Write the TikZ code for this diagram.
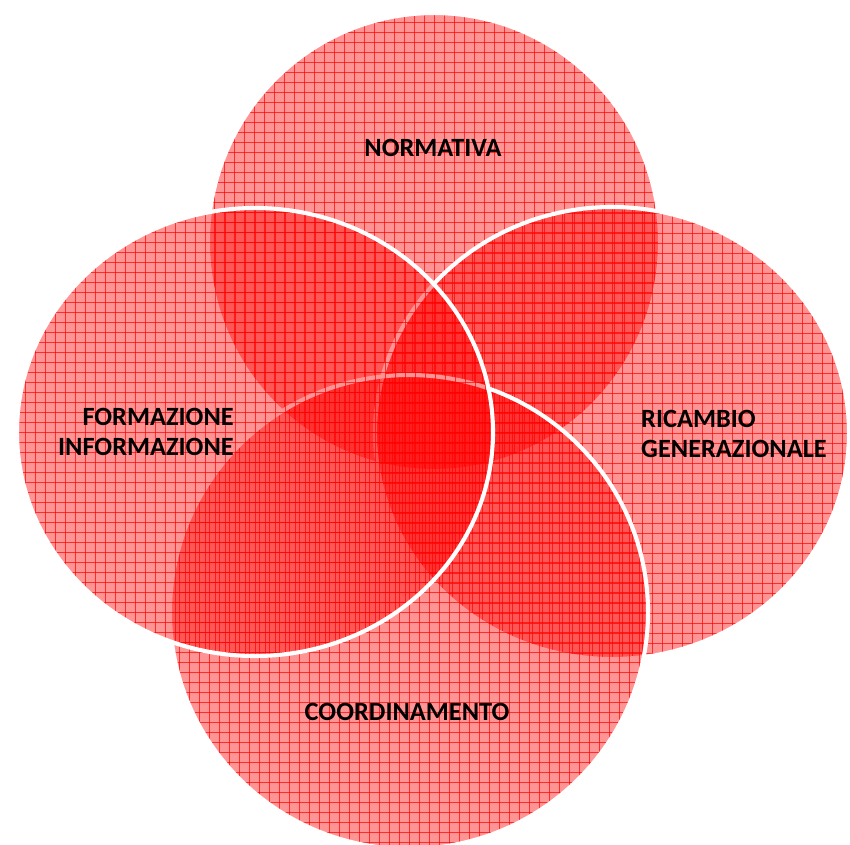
\documentclass[tikz,border=0pt]{standalone}
\usepackage{fontspec}
\setmainfont{Carlito}
\tikzset{
  petal/.style={fill=red,fill opacity=.42},
  mesh/.style={red,line width=.6pt,opacity=.7},
  rim/.style={draw=white,line width=3.5pt},
  lbl/.style={font=\bfseries\fontsize{22.5}{25}\selectfont,text=black,inner sep=0pt}
}
% one overlapping circle: centre x, centre y, x radius, y radius
\newcommand\drawpetal[4]{%
  \begin{scope}
    \clip (#1,#2) ellipse [x radius=#3,y radius=#4];
    \fill[petal] (#1,#2) ellipse [x radius=#3,y radius=#4];
    \foreach \g in {-240,-230,...,240} {
      \draw[mesh] (#1+\g,#2-#4) -- (#1+\g,#2+#4);
      \draw[mesh] (#1-#3,#2+\g) -- (#1+#3,#2+\g);
    }
  \end{scope}
  \draw[rim] (#1,#2) ellipse [x radius=#3,y radius=#4];}
\begin{document}
\begin{tikzpicture}[x=.03cm,y=-.03cm]
  \useasboundingbox (0,0) rectangle (850,844);
  \clip (0,0) rectangle (850,844);
  \drawpetal{434}{242}{226}{229}
  \drawpetal{612}{433}{237}{226}
  \drawpetal{409}{612}{239}{237}
  \drawpetal{255}{432}{238}{224}
  \node[lbl] (normativa) at (433,148) {NORMATIVA};
  \node[lbl,align=right,anchor=east] (formazione) at (234,432)
    {FORMAZIONE\\INFORMAZIONE};
  \node[lbl,align=left,anchor=west] (ricambio) at (641,434)
    {RICAMBIO\\GENERAZIONALE};
  \node[lbl] (coordinamento) at (407,712) {COORDINAMENTO};
\end{tikzpicture}
\end{document}
